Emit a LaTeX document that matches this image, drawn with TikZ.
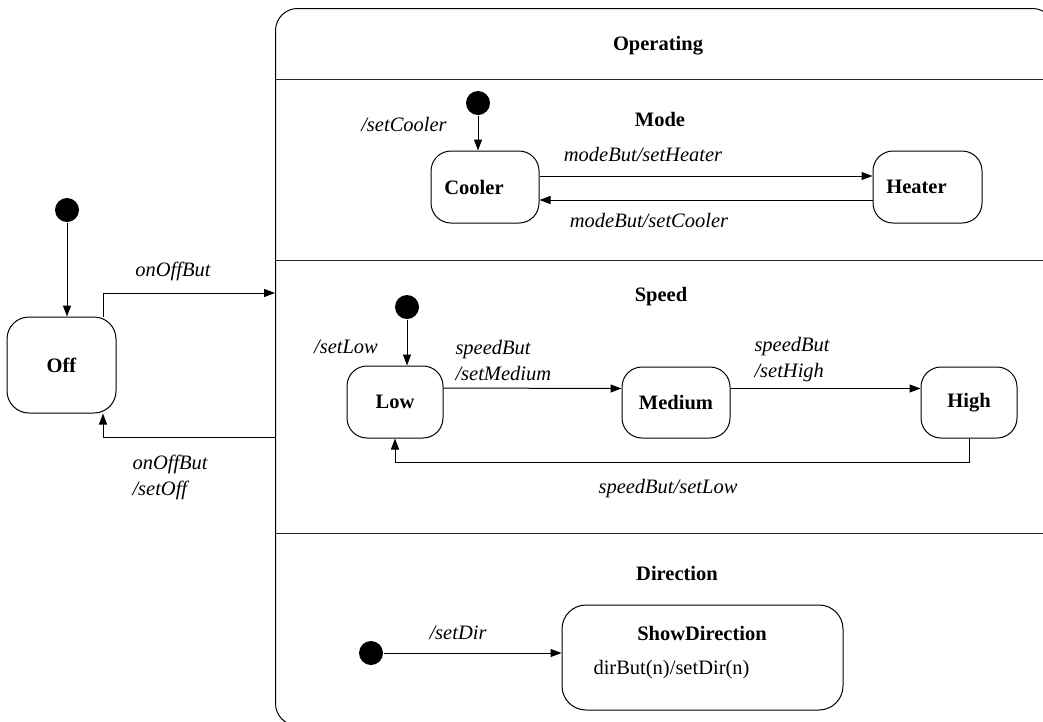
\documentclass[tikz,border=0pt]{standalone}
\usepackage{fontspec}
\setmainfont{Liberation Serif}
\usetikzlibrary{arrows.meta}
\begin{document}
\begin{tikzpicture}[x=1pt, y=-1pt, line width=1pt,
  every node/.style={font=\fontsize{20.5}{26}\selectfont},
  state/.style={draw, rounded corners=20pt, inner sep=0pt, font=\fontsize{20.5}{26}\selectfont\bfseries},
  initdot/.style={circle, fill=black, minimum size=24pt, inner sep=0pt},
  tr/.style={-{Triangle[length=11pt,width=8pt]}},
  lbl/.style={font=\fontsize{20.5}{26}\selectfont\itshape, inner sep=0pt},
  ttl/.style={font=\fontsize{20.5}{26}\selectfont\bfseries, inner sep=0pt},
  divider/.style={draw=black!85}
]
\useasboundingbox (0,0) rectangle (1043,721);
\begin{scope}
\clip (0,0) rectangle (1043,721);

% composite state and its regions
\node[draw, rounded corners=22pt, minimum width=779pt, minimum height=717pt,
      anchor=north west, inner sep=0pt] (operating) at (275,8) {};
\draw[divider] (275,79) -- (1043,79);
\draw[divider] (275,260) -- (1043,260);
\draw[divider] (275,533) -- (1043,533);

\node[ttl] (operatingTitle) at (658,46) {Operating};
\node[ttl] (modeTitle) at (660,119) {Mode};
\node[ttl] (speedTitle) at (661,297) {Speed};
\node[ttl] (dirTitle) at (677,573) {Direction};

% states
\node[state, minimum width=109pt, minimum height=96pt, rounded corners=22pt] (off) at (61.5,365) {Off};
\node[state, minimum width=108pt, minimum height=72pt] (cooler) at (485,187) {Cooler\rule{22pt}{0pt}};
\node[state, minimum width=109pt, minimum height=72pt] (heater) at (927.5,187) {Heater\rule{22pt}{0pt}};
\node[state, minimum width=96pt, minimum height=72pt] (low) at (395,402) {Low};
\node[state, minimum width=108pt, minimum height=71pt] (medium) at (676,402.5) {Medium};
\node[state, minimum width=96pt, minimum height=71pt] (high) at (969,402.5) {High};
\node[state, minimum width=281pt, minimum height=105pt, rounded corners=24pt] (showdir) at (702.5,657.5) {};
\node[ttl] (showdirTitle) at (702,633) {ShowDirection};
\node[anchor=west, inner sep=0pt] (showdirBody) at (593,670) {dirBut(n)/setDir(n)};

% initial pseudostates
\node[initdot] (offInit) at (67,210) {};
\node[initdot] (modeInit) at (478,103) {};
\node[initdot] (speedInit) at (407,307) {};
\node[initdot] (dirInit) at (371,653) {};

% free ends on the composite border
\coordinate (onoffIn) at (275,293);
\coordinate (onoffOut) at (275,437);

% transitions
\draw[tr] (offInit) -- (offInit |- off.north);
\draw[tr] (modeInit) -- (modeInit |- cooler.north);
\draw[tr] (speedInit) -- (speedInit |- low.north);
\draw[tr] (dirInit) -- (dirInit -| showdir.west);

\draw[tr] ([xshift=41.5pt]off.north) |- (onoffIn);
\draw[tr] (onoffOut) -| ([xshift=41.5pt]off.south);

\draw[tr] ([yshift=11pt]cooler.east) -- ([yshift=11pt]heater.west);
\draw[tr] ([yshift=-13pt]heater.west) -- ([yshift=-13pt]cooler.east);

\draw[tr] ([yshift=14pt]low.east) -- ([yshift=14pt]medium.west);
\draw[tr] ([yshift=14pt]medium.east) -- ([yshift=14pt]high.west);
\draw[tr] (high.south) -- ++(0,24) -| (low.south);

% transition labels
\node[lbl] (lOnOff) at (173,271) {onOffBut};
\node[lbl, anchor=west, align=left] (lOnOffOff) at (132,477) {onOffBut\\/setOff};
\node[lbl] (lSetCooler) at (404,124) {/setCooler};
\node[lbl] (lModeHeater) at (643,155) {modeBut/setHeater};
\node[lbl] (lModeCooler) at (649,221) {modeBut/setCooler};
\node[lbl] (lSetLow) at (346,347) {/setLow};
\node[lbl, anchor=west, align=left] (lSpeedMed) at (455,360) {speedBut\\/setMedium};
\node[lbl, anchor=west, align=left] (lSpeedHigh) at (754,360) {speedBut\\/setHigh};
\node[lbl] (lSpeedLow) at (668,489) {speedBut/setLow};
\node[lbl] (lSetDir) at (458,633) {/setDir};
\end{scope}
\end{tikzpicture}
\end{document}
